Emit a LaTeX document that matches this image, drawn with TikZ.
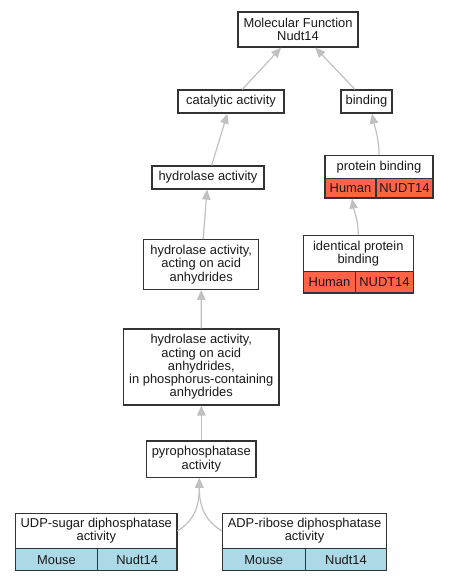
\documentclass[tikz,border=0pt]{standalone}
\usepackage{fontspec}
\setmainfont{Liberation Sans}
\usetikzlibrary{arrows.meta,calc}
\definecolor{hum}{HTML}{FF6347}
\definecolor{mou}{HTML}{ADD8E6}
\definecolor{edgecol}{HTML}{C0C0C0}
\begin{document}
\begin{tikzpicture}[x=1pt,y=-1pt,
 box/.style={draw=black!80, line width=1.2pt, fill=white, inner sep=0pt, align=center,
   font=\fontsize{12.9}{13.3}\selectfont, text=black!90},
 edge/.style={draw=edgecol, line width=1.2pt, -{Triangle[length=10pt,width=8.5pt]}},
 human/.style={box, fill=hum},
 mouse/.style={box, fill=mou}]
\useasboundingbox (0,0) rectangle (448,581);
% plain nodes
\node[box, minimum width=120pt, minimum height=35pt] (mf) at (298,29.5) {Molecular Function\\Nudt14};
\node[box, minimum width=106pt, minimum height=23pt] (cat) at (231,101.5) {catalytic activity};
\node[box, minimum width=51pt, minimum height=23pt] (bind) at (366.5,101.5) {binding};
\node[box, minimum width=112pt, minimum height=23pt] (hyd) at (208,177.5) {hydrolase activity};
\node[box, minimum width=115pt, minimum height=49.6pt] (haa) at (201.2,264.5) {hydrolase activity,\\acting on acid\\anhydrides};
\node[box, minimum width=155.3pt, minimum height=76pt] (hpc) at (201.3,367) {hydrolase activity,\\acting on acid\\anhydrides,\\in phosphorus-containing\\anhydrides};
\node[box, minimum width=109.3pt, minimum height=36.3pt] (pyro) at (201.3,459.2) {pyrophosphatase\\activity};
% protein binding
\node[box, minimum width=108pt, minimum height=22.6pt] (pbt) at (379,167) {protein binding};
\node[human, minimum width=51pt, minimum height=19.7pt] (pbh) at (350.5,188.2) {Human};
\node[human, minimum width=57pt, minimum height=19.7pt] (pbg) at (404.5,188.2) {NUDT14};
% identical protein binding
\node[box, minimum width=110pt, minimum height=35.6pt] (ipbt) at (358.3,253.5) {identical protein\\binding};
\node[human, minimum width=52.4pt, minimum height=21.7pt] (ipbh) at (329.5,282.2) {Human};
\node[human, minimum width=57.6pt, minimum height=21.7pt] (ipbg) at (384.5,282.2) {NUDT14};
% UDP-sugar
\node[box, minimum width=161.3pt, minimum height=35.4pt] (udpt) at (96.3,531) {UDP-sugar diphosphatase\\activity};
\node[mouse, minimum width=81.6pt, minimum height=22pt] (udpm) at (56.5,559.7) {Mouse};
\node[mouse, minimum width=79.7pt, minimum height=22pt] (udpg) at (137.2,559.7) {Nudt14};
% ADP-ribose
\node[box, minimum width=164.4pt, minimum height=35.4pt] (adpt) at (304.5,531) {ADP-ribose diphosphatase\\activity};
\node[mouse, minimum width=83pt, minimum height=22pt] (adpm) at (263.8,559.7) {Mouse};
\node[mouse, minimum width=81.4pt, minimum height=22pt] (adpg) at (346,559.7) {Nudt14};
% edges
\draw[edge] (cat) -- (mf);
\draw[edge] (bind) -- (mf);
\draw[edge] (hyd) -- (cat);
\draw[edge] (haa) -- (hyd);
\draw[edge] (hpc) -- (haa);
\draw[edge] (pyro) -- (hpc);
\draw[edge] (pbt.north) .. controls +(0,-18) and +(3,15) .. ($(bind.south)+(5.5,0)$);
\draw[edge] (ipbt.north) .. controls +(0,-15) and +(2,12) .. ($(pbh.south)+(1.5,0)$);
\draw[edge] (udpt.east) .. controls +(12,-8) and +(0,35) .. ($(pyro.south)+(-2,0)$);
\draw[edge] (adpt.west) .. controls +(-12,-8) and +(0,35) .. ($(pyro.south)+(-2,0)$);
\end{tikzpicture}
\end{document}
